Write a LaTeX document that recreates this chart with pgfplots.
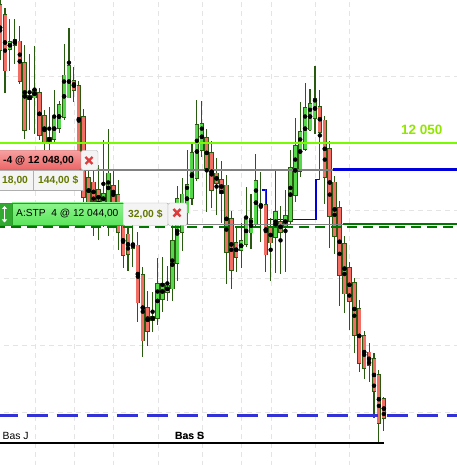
\documentclass[border=0pt]{standalone}
\usepackage{fontspec}
\setmainfont{Liberation Sans}
\usepackage{pgfplots}
\usepackage{pgfplotstable}
\pgfplotsset{compat=1.18}
\usetikzlibrary{arrows.meta}

\definecolor{candleedge}{RGB}{40,90,15}
\definecolor{upfill}{RGB}{85,215,75}
\definecolor{downfill}{RGB}{240,110,100}
\definecolor{gridgray}{RGB}{228,228,228}
\definecolor{limeline}{RGB}{120,250,0}
\definecolor{limetext}{RGB}{145,230,0}
\definecolor{levelgray}{RGB}{130,130,130}
\definecolor{levelblue}{RGB}{0,0,220}
\definecolor{dashblue}{RGB}{50,50,215}
\definecolor{stopgreen}{RGB}{0,120,0}
\definecolor{redtop}{RGB}{247,160,160}
\definecolor{redbot}{RGB}{236,100,100}
\definecolor{rededge}{RGB}{200,70,70}
\definecolor{greentop}{RGB}{140,245,140}
\definecolor{greenbot}{RGB}{90,228,90}
\definecolor{greenedge}{RGB}{40,160,40}
\definecolor{darkgreenbox}{RGB}{50,170,50}
\definecolor{boxgray}{RGB}{244,244,244}
\definecolor{boxedge}{RGB}{175,175,175}
\definecolor{amount}{RGB}{100,120,0}
\definecolor{crossred}{RGB}{220,60,60}

% candles: k open high low close
\pgfplotstableread{
k o h l c
2 12057.17 12059.32 12055.46 12057.69
3 12057.32 12059.32 12055.98 12057.76
7 12053.45 12057.32 12050.78 12054.05
11 12050.33 12054.05 12050.04 12051.89
12 12051.15 12053.23 12050.85 12052.86
13 12051.97 12057.54 12051.89 12055.09
14 12053.53 12058.58 12053.45 12055.91
21 12045.58 12050.26 12043.80 12046.32
22 12045.65 12051.08 12043.20 12047.81
31 12037.03 12039.11 12036.14 12037.26
32 12037.11 12041.64 12036.66 12039.63
33 12038.45 12041.57 12037.48 12039.63
34 12039.04 12040.97 12038.37 12039.56
35 12039.34 12044.31 12038.37 12042.90
36 12041.12 12046.92 12039.86 12045.88
37 12043.50 12047.51 12042.09 12046.32
38 12044.91 12049.52 12043.94 12046.99
39 12045.95 12050.04 12045.43 12049.29
40 12047.51 12053.31 12047.29 12051.52
41 12049.59 12053.31 12049.14 12051.52
49 12042.16 12044.17 12040.82 12042.83
50 12042.53 12046.77 12042.31 12044.54
51 12043.50 12046.40 12042.31 12044.54
52 12044.09 12049.29 12043.80 12047.29
56 12043.27 12048.03 12040.45 12045.13
58 12043.80 12046.55 12040.45 12044.69
59 12044.31 12049.52 12043.94 12048.25
60 12046.32 12052.04 12045.80 12049.96
61 12048.10 12053.23 12047.66 12051.00
62 12049.59 12054.57 12049.52 12052.64
63 12051.08 12054.12 12051.00 12053.01
64 12052.04 12055.83 12050.78 12053.45
}\upcandles

\pgfplotstableread{
k o h l c
0 12060.29 12060.66 12056.20 12056.95
1 12059.69 12060.07 12053.75 12055.53
4 12057.61 12058.80 12054.49 12054.64
5 12056.13 12057.47 12050.48 12051.15
6 12053.60 12056.80 12051.15 12053.38
8 12053.75 12054.12 12050.26 12050.63
9 12052.19 12052.49 12049.52 12050.26
10 12050.48 12052.71 12049.52 12050.26
15 12054.72 12055.83 12053.23 12054.05
16 12054.42 12054.72 12048.77 12049.52
17 12051.97 12052.49 12045.43 12046.03
18 12047.51 12048.40 12044.69 12045.65
19 12047.06 12048.77 12043.20 12045.65
20 12046.62 12048.40 12042.83 12045.58
23 12046.92 12048.03 12044.69 12045.58
24 12046.32 12047.29 12042.09 12043.57
25 12043.94 12044.69 12040.82 12041.79
26 12043.35 12043.94 12040.60 12041.86
27 12042.61 12044.31 12040.97 12042.31
28 12042.46 12043.57 12036.88 12038.22
29 12040.38 12040.97 12034.29 12035.47
30 12037.85 12039.11 12035.03 12036.14
42 12050.48 12051.22 12045.06 12048.25
43 12049.29 12050.26 12045.28 12046.55
44 12047.81 12049.00 12044.83 12047.06
45 12047.44 12048.77 12044.17 12046.47
46 12046.99 12047.66 12039.56 12042.01
47 12044.54 12045.06 12039.26 12040.75
48 12042.61 12043.80 12040.45 12041.57
53 12045.65 12048.03 12042.83 12045.50
54 12045.58 12046.55 12040.38 12041.86
55 12043.80 12044.54 12039.86 12042.68
57 12044.24 12045.50 12040.45 12043.50
65 12052.79 12053.97 12047.29 12050.93
66 12051.82 12052.12 12045.58 12047.59
67 12049.74 12050.26 12042.31 12044.76
68 12047.29 12047.66 12041.86 12043.27
69 12045.28 12045.80 12038.00 12040.30
70 12042.68 12043.20 12037.48 12038.97
71 12040.82 12041.34 12036.29 12038.37
72 12039.63 12040.01 12034.43 12035.77
73 12037.70 12038.37 12033.02 12033.69
74 12035.70 12036.14 12032.58 12033.32
75 12034.51 12035.18 12032.28 12033.54
76 12034.06 12034.51 12029.68 12031.68
77 12032.87 12033.17 12027.82 12029.31
78 12031.09 12031.31 12028.71 12029.68
}\downcandles

\pgfplotsset{
  gridline/.style={gridgray, line width=1bp, dash pattern=on 5bp off 4bp, mark=none},
  wick/.style={only marks, mark=none, error bars/.cd, y dir=both, y explicit,
    error mark=none, error bar style={draw=candleedge, line width=1.1bp, solid}},
  bodyedge/.style={only marks, mark=none, error bars/.cd, y dir=both, y explicit,
    error mark=none, error bar style={draw=candleedge, line width=4.5bp, solid}},
  bodyfill/.style={only marks, mark=none, error bars/.cd, y dir=both, y explicit,
    error mark=none, error bar style={draw=#1, line width=3.0bp, solid}},
}

\begin{document}
\begin{tikzpicture}
\begin{axis}[
  scale only axis, width=457bp, height=465bp,
  xmin=-0.02, xmax=92.87, ymin=12026.11, ymax=12060.66,
  axis line style={draw=none}, tick style={draw=none},
  xtick=\empty, ytick=\empty,
]
% grid (time separators and 5-point price steps)
\pgfplotsinvokeforeach{7.24,15.09,23.01,32.16,41.14,49.11,55.2,64.15,70.98}{
  \addplot[gridline] coordinates {(#1,12020) (#1,12065)};
}
\pgfplotsinvokeforeach{12030,12035,12040,12045,12050,12055}{
  \addplot[gridline] coordinates {(-1,#1) (95,#1)};
}
% trailing stop steps (behind the candles)
\addplot[levelblue, line width=1.3bp, mark=none] coordinates {
  (53.2,12046.55) (54.2,12046.55) (54.2,12044.37) (64.2,12044.37) (64.2,12047.34) (65.0,12047.34)};

% wicks
\addplot[wick] table[x=k, y expr=(\thisrow{h}+\thisrow{l})/2, y error expr=(\thisrow{h}-\thisrow{l})/2] {\upcandles};
\addplot[wick] table[x=k, y expr=(\thisrow{h}+\thisrow{l})/2, y error expr=(\thisrow{h}-\thisrow{l})/2] {\downcandles};
% bodies
\addplot[bodyedge] table[x=k, y expr=(\thisrow{o}+\thisrow{c})/2, y error expr=abs(\thisrow{c}-\thisrow{o})/2+0.06] {\upcandles};
\addplot[bodyedge] table[x=k, y expr=(\thisrow{o}+\thisrow{c})/2, y error expr=abs(\thisrow{c}-\thisrow{o})/2+0.06] {\downcandles};
\addplot[bodyfill=upfill] table[x=k, y expr=(\thisrow{o}+\thisrow{c})/2, y error expr=abs(\thisrow{c}-\thisrow{o})/2] {\upcandles};
\addplot[bodyfill=downfill] table[x=k, y expr=(\thisrow{o}+\thisrow{c})/2, y error expr=abs(\thisrow{c}-\thisrow{o})/2] {\downcandles};

% price levels
\addplot[limeline, line width=2bp, mark=none] coordinates {(-1,12050) (95,12050)};
\addplot[levelgray, line width=1.3bp, mark=none] coordinates {(-1,12048.03) (67.7,12048.03)};
\addplot[levelblue, line width=2.2bp, mark=none] coordinates {(67.7,12048.07) (95,12048.07)};
\addplot[levelgray, line width=1.3bp, mark=none] coordinates {(-1,12044.0) (69.7,12044.0)};
\addplot[stopgreen, line width=2bp, mark=none] coordinates {(69.7,12044.0) (95,12044.0)};
\addplot[stopgreen, line width=1.3bp, mark=none, dash pattern=on 10bp off 6bp] coordinates {(-1,12043.8) (95,12043.8)};
\addplot[dashblue, line width=2.3bp, mark=none, dash pattern=on 21.7bp off 8.3bp] coordinates {(-0.69,12029.79) (95,12029.79)};
\addplot[black, line width=2.5bp, mark=none] coordinates {(-1,12027.76) (78.13,12027.76)};
\end{axis}

% order labels, in pixels from the top left corner
\begin{scope}[shift={(current axis.north west)}, x=1bp, y=-1bp]
  % line labels
  \node[anchor=base west, inner sep=0pt, text=limetext, font=\fontsize{13.5bp}{15bp}\selectfont\bfseries] at (401,135) {12 050};
  \node[anchor=base west, inner sep=0pt, font=\fontsize{10.4bp}{12bp}\selectfont] at (2.5,439.5) {Bas J};
  \node[anchor=base west, inner sep=0pt, font=\fontsize{10.4bp}{12bp}\selectfont\bfseries] at (175,439.5) {Bas S};
  \node[anchor=base west, inner sep=0pt, font=\fontsize{10.4bp}{12bp}\selectfont\bfseries, opacity=0.6] at (175,439.5) {Bas B};

  % sell order at 12 048
  \draw[draw=rededge, top color=redtop, bottom color=redbot, rounded corners=2bp] (-4,150.5) rectangle (81,170);
  \node[anchor=west, inner sep=0pt, font=\fontsize{10.3bp}{12bp}\selectfont\bfseries] at (3,160.5) {-4 @ 12 048,00};
  \draw[draw=boxedge, fill=boxgray, rounded corners=2bp] (81,150.5) rectangle (98,170);
  \draw[crossred, line width=2.4bp] (85.5,157) -- (92.5,164) (85.5,164) -- (92.5,157);
  \draw[draw=boxedge, fill=boxgray] (-4,170) rectangle (33,190);
  \draw[draw=boxedge, fill=boxgray] (33,170) rectangle (83,190);
  \node[anchor=west, inner sep=0pt, text=amount, font=\fontsize{10.3bp}{12bp}\selectfont\bfseries] at (2,180.5) {18,00};
  \node[anchor=west, inner sep=0pt, text=amount, font=\fontsize{10.3bp}{12bp}\selectfont\bfseries] at (38,180.5) {144,00 \$};

  % stop order at 12 044
  \draw[draw=greenedge, fill=darkgreenbox] (-4,203) rectangle (12,225.5);
  \draw[white, line width=1.6bp, {Triangle[width=5bp,length=3bp]}-{Triangle[width=5bp,length=3bp]}] (4.5,206) -- (4.5,222.5);
  \draw[draw=greenedge, top color=greentop, bottom color=greenbot] (12,203) rectangle (123,225.5);
  \node[anchor=west, inner sep=0pt, font=\fontsize{10.2bp}{12bp}\selectfont] at (16,214) {A:STP\ \ 4 @ 12 044,00};
  \draw[draw=boxedge, fill=boxgray, rounded corners=1bp] (123,203) rectangle (168,225.5);
  \node[anchor=west, inner sep=0pt, text=amount, font=\fontsize{10.3bp}{12bp}\selectfont\bfseries] at (128,214) {32,00 \$};
  \draw[draw=boxedge, fill=boxgray, rounded corners=2bp] (168,203) rectangle (187,225.5);
  \draw[crossred, line width=2.4bp] (173.5,209) -- (180.5,216.5) (173.5,216.5) -- (180.5,209);
\end{scope}
\pgfresetboundingbox
\path[use as bounding box] (current axis.south west) rectangle (current axis.north east);
\end{tikzpicture}
\end{document}
